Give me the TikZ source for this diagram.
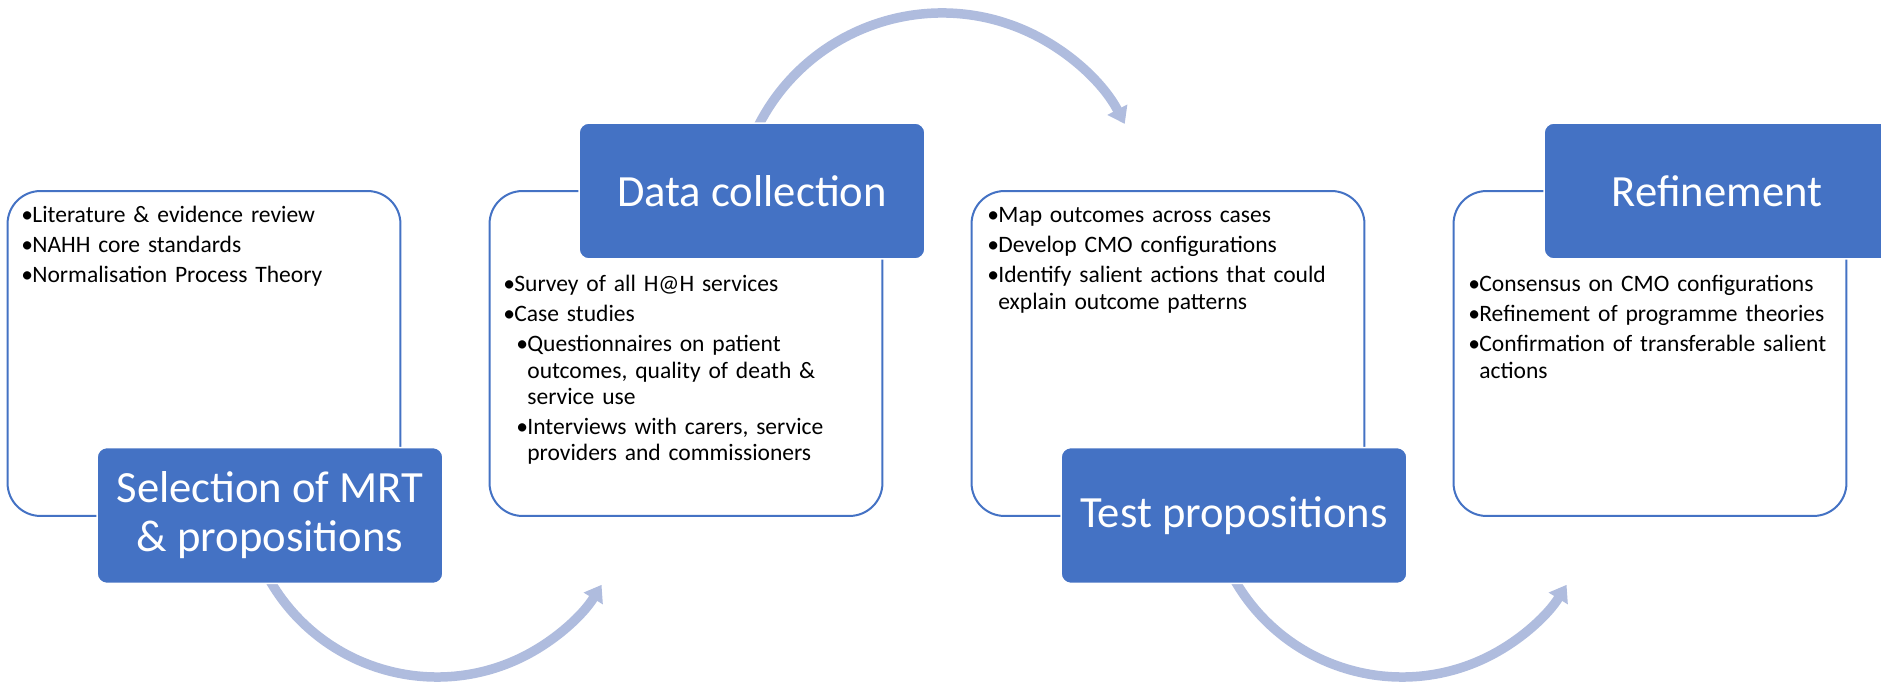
\documentclass[tikz,border=0pt]{standalone}
\usepackage{fontspec}
\setmainfont{Carlito}
\usepackage{tikz}
\usetikzlibrary{arrows.meta}
\definecolor{stageblue}{RGB}{68,114,196}
\definecolor{flowblue}{RGB}{175,188,222}
\tikzset{
  panel/.style={rectangle, draw=stageblue, line width=0.04cm, rounded corners=0.66cm, fill=white, minimum width=7.86cm, minimum height=6.5cm},
  heading/.style={rectangle, draw=white, line width=0.03cm, fill=stageblue, rounded corners=0.2cm, minimum width=6.92cm, minimum height=2.72cm, text=white, align=center, font=\fontsize{25.4}{27.9}\selectfont},
  points/.style={anchor=base west, inner sep=0pt, text width=7.6cm, align=left, font=\fontsize{13.4}{14.8}\selectfont},
  flow/.style={draw=flowblue, line width=0.19cm, -{Triangle[width=0.43cm, length=0.32cm]}}
}
\newcommand{\stagepanel}[2] {\node at (#1) (#2) [panel] {};}
\newcommand{\stagehead}[3] {\node at (#1) (#2) [heading] {#3};}
\newcommand{\stagepoints}[3] {\node at (#1) (#2) [points] {#3};}
\newcommand{\pitem}[1] {\parskip=0.08cm\leftskip=0pt\hangindent=0.22cm\hangafter=1\noindent\makebox[0.22cm][l]{\textbullet}#1\par}
\newcommand{\psubitem}[1] {\parskip=0.08cm\leftskip=0.26cm\hangindent=0.22cm\hangafter=1\noindent\makebox[0.22cm][l]{\textbullet}#1\par}

\begin{document}
\begin{tikzpicture}[x=0.02cm, y=-0.02cm]

\clip (0,0) rectangle (1881,685);

\coordinate (bend1) at (437,484);
\coordinate (bend2) at (942,219);
\coordinate (bend3) at (1402,484);
\draw [flow] ([shift={(152:193)}]bend1) arc [start angle=152, end angle=31.5, radius=193];
\draw [flow] ([shift={(205:206)}]bend2) arc [start angle=205, end angle=332.5, radius=206];
\draw [flow] ([shift={(152:193)}]bend3) arc [start angle=152, end angle=31.5, radius=193];

\stagepanel {204,353.5}{selpanel}
\stagepanel {686,353.5}{datapanel}
\stagepanel {1168,353.5}{testpanel}
\stagepanel {1650,353.5}{refpanel}

\stagehead {270,515.5}{selhead}{Selection of MRT\\ \& propositions}
\stagehead {752,191}{datahead}{Data collection}
\stagehead {1234,515.5}{testhead}{Test propositions}
\stagehead {1717,191}{refhead}{Refinement}

\stagepoints {21,223}{selpoints}{\pitem{Literature \& evidence review}%
  \pitem{NAHH core standards}%
  \pitem{Normalisation Process Theory}}
\stagepoints {503,292}{datapoints}{\pitem{Survey of all H@H services}%
  \pitem{Case studies}%
  \psubitem{Questionnaires on patient\newline outcomes, quality of death \&\newline service use}%
  \psubitem{Interviews with carers, service\newline providers and commissioners}}
\stagepoints {987,223}{testpoints}{\pitem{Map outcomes across cases}%
  \pitem{Develop CMO configurations}%
  \pitem{Identify salient actions that could\newline explain outcome patterns}}
\stagepoints {1468,292}{refpoints}{\pitem{Consensus on CMO configurations}%
  \pitem{Refinement of programme theories}%
  \pitem{Confirmation of transferable salient\newline actions}}

\end{tikzpicture}
\end{document}
